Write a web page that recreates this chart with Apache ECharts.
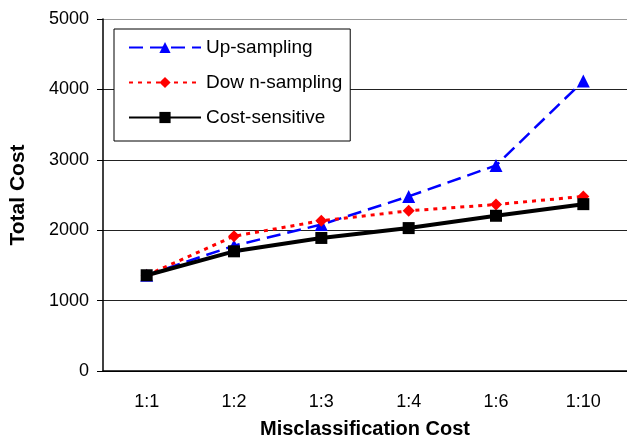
<!DOCTYPE html>
<html>
<head>
<meta charset="utf-8">
<script src="https://cdn.jsdelivr.net/npm/echarts@6/dist/echarts.min.js"></script>
<style>
  html, body { margin: 0; padding: 0; background: #fff; }
  #chart { width: 627px; height: 444px; }
</style>
</head>
<body>
<div id="chart"></div>
<script>
  // data
  var categories = ['1:1', '1:2', '1:3', '1:4', '1:6', '1:10']
  var upSampling = [1360, 1780, 2080, 2480, 2920, 4120]
  var downSampling = [1360, 1915, 2135, 2275, 2365, 2480]
  var costSensitive = [1360, 1700, 1890, 2030, 2205, 2370]
  var yTicks = [0, 1000, 2000, 3000, 4000, 5000]

  var font = 'Liberation Sans, Arial, sans-serif'

  var myChart = echarts.init(document.getElementById('chart'))
  myChart.setOption({
    animation: false,
    textStyle: { fontFamily: font, color: '#000' },
    grid: { left: 103, top: 19, width: 529, bottom: 71 },
    legend: {
      orient: 'vertical',
      left: 114,
      top: 29,
      backgroundColor: '#fff',
      borderColor: '#000',
      borderWidth: 1,
      padding: [9, 8, 14, 14],
      itemWidth: 72,
      itemHeight: 14,
      itemGap: 16,
      textStyle: { fontSize: 19, fontFamily: font, color: '#000' },
      data: ['Up-sampling', 'Dow n-sampling', 'Cost-sensitive']
    },
    xAxis: {
      type: 'category',
      data: categories,
      name: 'Misclassification Cost',
      nameLocation: 'middle',
      nameGap: 48,
      nameTextStyle: { fontSize: 20, fontWeight: 'bold', fontFamily: font, color: '#000' },
      axisLine: { lineStyle: { color: '#000', width: 1.5 } },
      axisTick: { length: 5, lineStyle: { color: '#000' } },
      axisLabel: { fontSize: 18, margin: 22, color: '#000', fontFamily: font }
    },
    yAxis: {
      type: 'value',
      min: yTicks[0],
      max: yTicks[yTicks.length - 1],
      interval: 1000,
      name: 'Total Cost',
      nameLocation: 'middle',
      nameGap: 74,
      nameTextStyle: { fontSize: 21, fontWeight: 'bold', fontFamily: font, color: '#000' },
      axisLine: { show: true, lineStyle: { color: '#000', width: 1.5 } },
      axisTick: { show: true, length: 6, lineStyle: { color: '#000' } },
      axisLabel: {
        fontSize: 18, margin: 14, color: '#000', fontFamily: font,
        formatter: function (v) { return String(v) }
      },
      splitLine: {
        lineStyle: { color: ['#000', '#222', '#222', '#222', '#222', '#999'], width: 1.2 }
      }
    },
    series: [
      {
        name: 'Up-sampling',
        type: 'line',
        data: upSampling,
        symbol: 'triangle',
        symbolSize: 13,
        itemStyle: { color: '#0000ff' },
        lineStyle: { color: '#0000ff', width: 2.5, type: [14, 7] }
      },
      {
        name: 'Dow n-sampling',
        type: 'line',
        data: downSampling,
        symbol: 'diamond',
        symbolSize: 12,
        itemStyle: { color: '#ff0000' },
        lineStyle: { color: '#ff0000', width: 3, type: [4, 5] }
      },
      {
        name: 'Cost-sensitive',
        type: 'line',
        data: costSensitive,
        symbol: 'rect',
        symbolSize: 12,
        itemStyle: { color: '#000' },
        lineStyle: { color: '#000', width: 4 }
      }
    ]
  })
</script>
</body>
</html>
